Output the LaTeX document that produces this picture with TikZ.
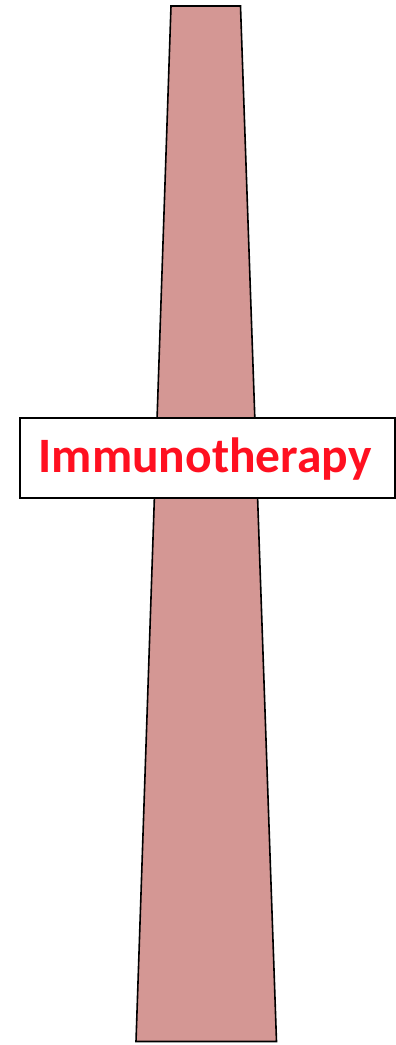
\documentclass[tikz,border=0pt]{standalone}
\usepackage{fontspec}
\setmainfont{Carlito}
\usepackage{tikz}

\definecolor{shaft}{RGB}{212,151,148}
\definecolor{labelred}{RGB}{255,16,32}

\begin{document}
\begin{tikzpicture}[x=1pt,y=-1pt]
        \useasboundingbox (0,0) rectangle (396,1045);
        \coordinate (tl) at (171,6);
        \coordinate (tr) at (240.5,6);
        \coordinate (br) at (276.5,1041.5);
        \coordinate (bl) at (136,1041.5);

        \draw[fill=shaft, line width=1.6pt, line join=miter] (tl) -- (tr) -- (br) -- (bl) -- cycle;
        \node[draw, fill=white, line width=1.4pt, minimum width=375pt, minimum height=80pt, inner sep=0pt] (immuno) at (207.5,458) {};
        \node[text=labelred, font=\fontsize{49.5}{54}\selectfont\bfseries, inner sep=0pt] (label) at (205,459) {Immunotherapy};
        \end{tikzpicture}
\end{document}
